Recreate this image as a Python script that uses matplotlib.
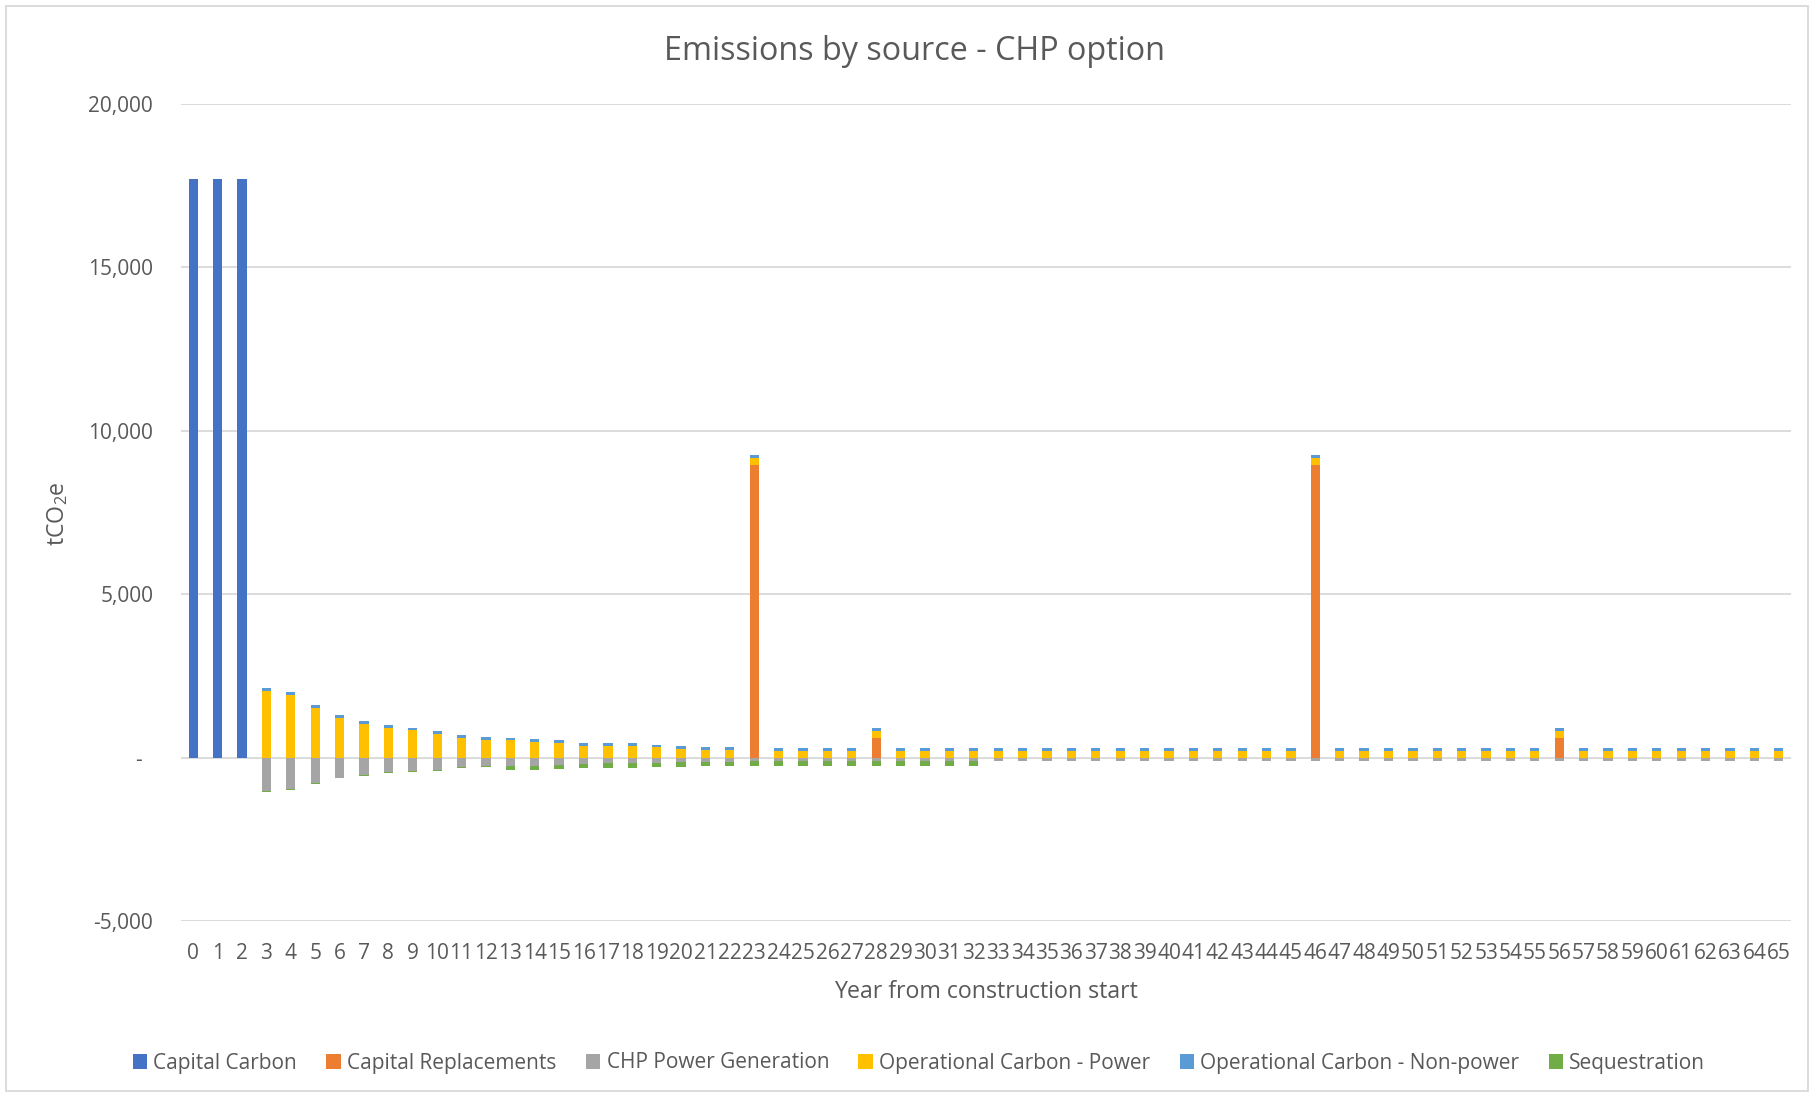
import matplotlib
matplotlib.use("Agg")
import matplotlib.pyplot as plt
from matplotlib.patches import Patch, Rectangle
import numpy as np

plt.rcParams['font.family'] = ['Open Sans', 'DejaVu Sans']
plt.rcParams['mathtext.default'] = 'regular'

years = list(range(66))
year_labels = [str(y) for y in years]

capital_carbon = [17700, 17700, 17700] + [0] * 63

capital_replacements = [0] * 66
capital_replacements[23] = 8960
capital_replacements[28] = 610
capital_replacements[46] = 8960
capital_replacements[56] = 610

op_power = ([0, 0, 0, 2050, 1930, 1520, 1215, 1040, 910, 830, 735, 610, 550, 530,
             490, 440, 370, 355, 355, 315, 275, 245, 235] + [205] * 43)

op_nonpower = [0, 0, 0] + [85] * 63

chp_power = ([0, 0, 0, -1020, -950, -765, -610, -520, -450, -420, -390, -300, -265,
              -255, -255, -225, -195, -175, -175, -175, -145, -145, -125]
             + [-110] * 10 + [-90] * 33)

sequestration = ([0, 0, 0, -30, -40, -30, -25, -35, -30, -20, -10, -25, -25,
                  -130, -130, -130, -130, -140, -135, -125, -130, -125, -135]
                 + [-135] * 10 + [0] * 33)

series_names = ['Capital Carbon', 'Capital Replacements', 'CHP Power Generation',
                'Operational Carbon - Power', 'Operational Carbon - Non-power', 'Sequestration']
colors = ['#4472C4', '#ED7D31', '#A5A5A5', '#FFC000', '#5B9BD5', '#70AD47']

W, H = 1812, 1097
fig = plt.figure(figsize=(W / 100, H / 100), dpi=100)
fig.patch.set_facecolor('white')

# chart border
fig.add_artist(Rectangle((6 / W, 6 / H), (W - 10) / W, (H - 12) / H, transform=fig.transFigure,
                         fill=False, edgecolor='#D9D9D9', linewidth=1.3))

left, right, top, bottom = 181, 1791, 104, 921
ax = fig.add_axes([left / W, 1 - bottom / H, (right - left) / W, (bottom - top) / H])

x = np.arange(len(years))
bw = 0.38
cc = np.array(capital_carbon, float)
cr = np.array(capital_replacements, float)
op = np.array(op_power, float)
on = np.array(op_nonpower, float)
chp = np.array(chp_power, float)
sq = np.array(sequestration, float)

ax.bar(x, cc, bw, color=colors[0], zorder=3)
ax.bar(x, cr, bw, bottom=cc, color=colors[1], zorder=3)
ax.bar(x, chp, bw, color=colors[2], zorder=3)
ax.bar(x, op, bw, bottom=cc + cr, color=colors[3], zorder=3)
ax.bar(x, on, bw, bottom=cc + cr + op, color=colors[4], zorder=3)
ax.bar(x, sq, bw, bottom=chp, color=colors[5], zorder=3)

ax.set_xlim(-0.5, len(years) - 0.5)
ax.set_ylim(-5000, 20000)
yt = [-5000, 0, 5000, 10000, 15000, 20000]
ax.set_yticks(yt)
ax.set_yticklabels(['{:,}'.format(v) if v != 0 else '-  ' for v in yt])
ax.set_xticks(x)
ax.set_xticklabels(year_labels)
ax.grid(axis='y', color='#D9D9D9', linewidth=1.3, zorder=0)
for s in ax.spines.values():
    s.set_visible(False)
ax.tick_params(axis='both', length=0, colors='#595959', labelsize=15)
ax.tick_params(axis='y', pad=20)
ax.tick_params(axis='x', pad=16)

fig.text(914 / W, 1 - 52 / H, 'Emissions by source - CHP option', ha='center', va='center',
         fontsize=23.3, color='#595959')
fig.text(986 / W, 1 - 992 / H, 'Year from construction start', ha='center', va='center',
         fontsize=16.7, color='#595959')
fig.text(58 / W, 1 - 514 / H, 'tCO$_2$e', ha='center', va='center', rotation=90,
         fontsize=16.7, color='#595959')

handles = [Patch(facecolor=c, edgecolor='none') for c in colors]
fig.legend(handles, series_names, loc='center', bbox_to_anchor=(919 / W, 1 - 1063 / H),
           ncol=6, frameon=False, fontsize=15, labelcolor='#595959',
           handlelength=0.7, handleheight=0.7, handletextpad=0.3, columnspacing=1.4)

fig.savefig('out.png', dpi=100, facecolor='white')
